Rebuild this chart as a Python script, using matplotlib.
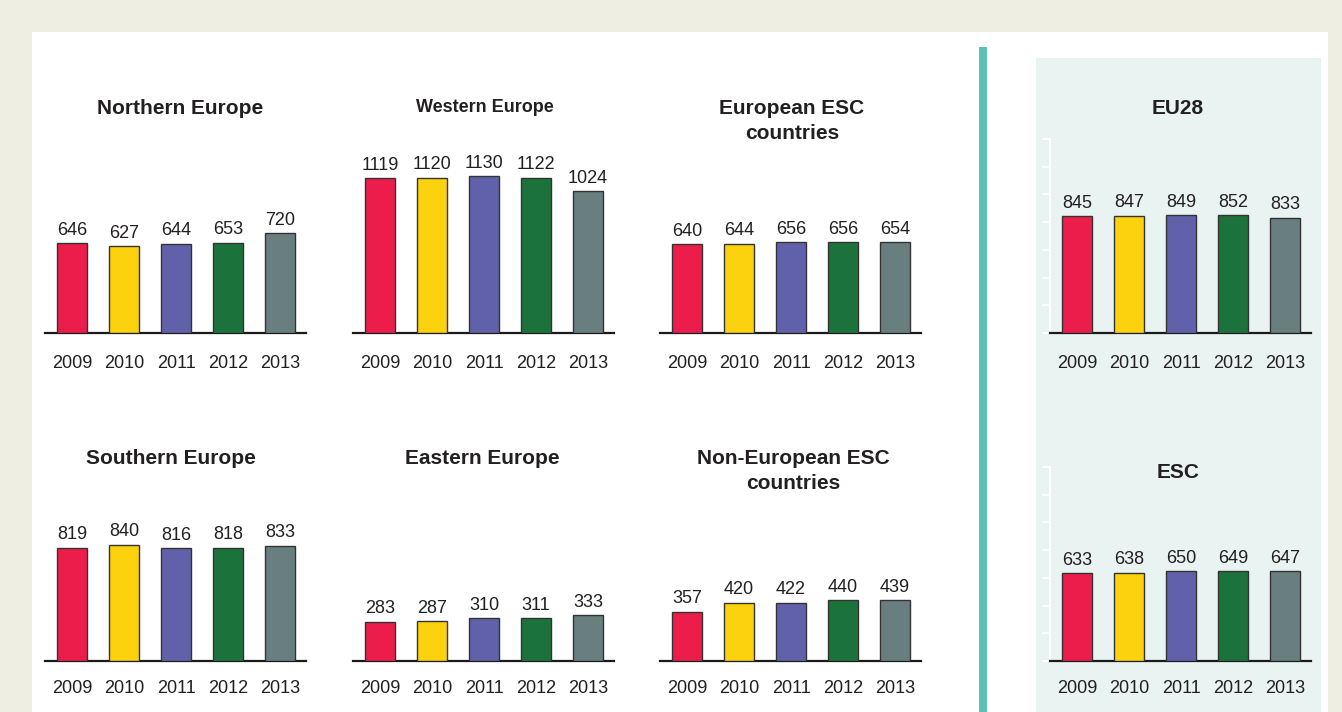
import matplotlib
matplotlib.use('Agg')
import matplotlib.pyplot as plt
from matplotlib.patches import Rectangle

plt.rcParams['font.family'] = ['Liberation Sans', 'DejaVu Sans']

# data
years = ['2009', '2010', '2011', '2012', '2013']
northern = [646, 627, 644, 653, 720]
western = [1119, 1120, 1130, 1122, 1024]
european_esc = [640, 644, 656, 656, 654]
southern = [819, 840, 816, 818, 833]
eastern = [283, 287, 310, 311, 333]
non_european = [357, 420, 422, 440, 439]
eu28 = [845, 847, 849, 852, 833]
esc = [633, 638, 650, 649, 647]

bar_colors = ['#EC1C4B', '#FCD20F', '#6061AA', '#1B733B', '#687E7F']
text_col = '#231F20'

W, H = 1342, 712
fig = plt.figure(figsize=(W / 100, H / 100), dpi=100)
fig.patch.set_facecolor('#EEEEE3')


def rect(x, y, w, h, color):
    # pixel box (top-left origin) -> figure patch, kept behind the axes
    fig.patches.append(Rectangle((x / W, 1 - (y + h) / H), w / W, h / H,
                                 transform=fig.transFigure, facecolor=color,
                                 edgecolor='none', zorder=-10))


rect(32, 32, 1296, 680, 'white')
rect(979, 47, 8, 665, '#5BC2B3')
rect(1036, 58, 285, 654, '#E9F3F1')


def panel(left, base, values, title, tx, ty, tsize=15, side=False, pad=15):
    ax = fig.add_axes([left / W, 1 - base / H, 261 / W, 194 / H])
    ax.patch.set_alpha(0)
    x = range(len(values))
    ax.bar(x, values, width=0.58, color=bar_colors, edgecolor='#333333',
           linewidth=1, zorder=3)
    for i, v in enumerate(values):
        ax.annotate(str(v), (i, v), xytext=(0, 6), textcoords='offset points',
                    ha='center', va='baseline', fontsize=13, color=text_col)
    ax.set_xlim(-0.52, 4.5)
    ax.set_ylim(0, 1400)
    ax.set_xticks(list(x))
    ax.set_xticklabels(years, fontsize=13, color=text_col)
    ax.tick_params(axis='x', length=0, pad=pad)
    for s in ['top', 'right']:
        ax.spines[s].set_visible(False)
    ax.spines['bottom'].set_linewidth(1.6)
    ax.spines['bottom'].set_color('#1a1a1a')
    if side:
        ax.spines['left'].set_color('white')
        ax.spines['left'].set_linewidth(1.5)
        ax.set_yticks(range(0, 1401, 200))
        ax.tick_params(axis='y', colors='white', length=6, width=1.5,
                       labelleft=False)
    else:
        ax.spines['left'].set_visible(False)
        ax.set_yticks([])
    fig.text(tx / W, 1 - ty / H, title, ha='center', va='center',
             fontsize=tsize, fontweight='bold', color=text_col,
             linespacing=1.38)
    return ax


panel(45, 333, northern, 'Northern Europe', 180, 108, pad=16)
panel(353, 333, western, 'Western Europe', 485, 108, tsize=13, pad=16)
panel(660, 333, european_esc, 'European ESC\ncountries', 792, 121, pad=16)
panel(1050, 333, eu28, 'EU28', 1178, 108, side=True, pad=16)
panel(45, 661, southern, 'Southern Europe', 171, 458, pad=14)
panel(353, 661, eastern, 'Eastern Europe', 482, 458, pad=14)
panel(660, 661, non_european, 'Non-European ESC\ncountries', 793, 471, pad=14)
panel(1050, 661, esc, 'ESC', 1178, 472, side=True, pad=14)

fig.savefig('out.png', dpi=100, facecolor=fig.get_facecolor())
